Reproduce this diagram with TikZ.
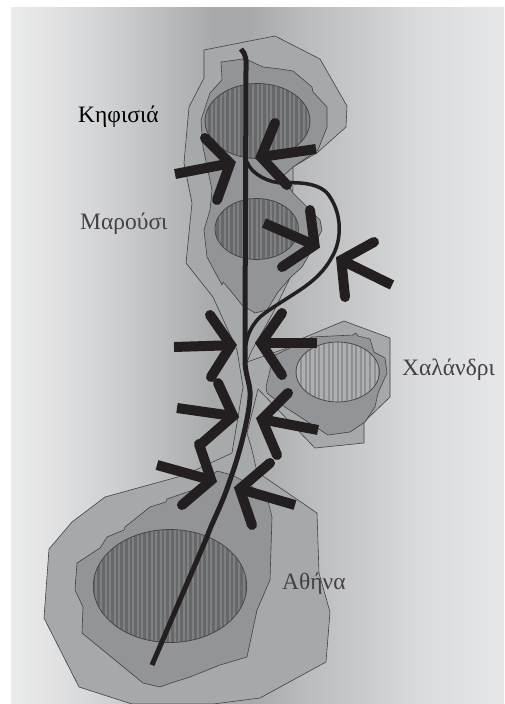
\documentclass[tikz,border=0pt]{standalone}
\usepackage{fontspec}
\setmainfont{Liberation Serif}
\usetikzlibrary{calc}
\definecolor{zoneouter}{HTML}{A6A9AB}
\definecolor{zoneinner}{HTML}{939497}
\definecolor{ink}{HTML}{231F20}
\definecolor{coredark}{HTML}{676869}
\definecolor{corestripe}{HTML}{7F8082}
\definecolor{corelight}{HTML}{AEAFB1}
\definecolor{lightstripe}{HTML}{8E8F91}
\pgfdeclarehorizontalshading{bgshade}{100bp}{rgb(0bp)=(.922,.925,.925); rgb(25bp)=(.922,.925,.925); rgb(30bp)=(.875,.878,.882); rgb(35bp)=(.816,.82,.824); rgb(41bp)=(.722,.729,.733); rgb(45.5bp)=(.655,.663,.671); rgb(49.25bp)=(.655,.663,.671); rgb(54.3bp)=(.722,.729,.737); rgb(59.4bp)=(.776,.78,.788); rgb(66.5bp)=(.855,.859,.863); rgb(75bp)=(.902,.906,.91); rgb(100bp)=(.902,.906,.91)}
\tikzset{
  zone/.style={draw=ink!85,line width=0.6pt,line join=round},
  road/.style={draw=ink,line cap=butt,line join=round},
  shaft/.style={draw=ink,line width=10pt,line cap=butt},
  barbs/.style={draw=ink,line width=10pt,line cap=round,line join=miter,miter limit=10},
  place/.style={font=\fontsize{23.5}{25}\selectfont,anchor=base west,inner sep=0pt,text=ink!85}
}
\newcommand{\hatched}[6]{% cx cy rx ry base stripe
  \fill[#5] (#1,#2) ellipse [x radius=#3,y radius=#4];
  \begin{scope}
    \clip (#1,#2) ellipse [x radius=#3,y radius=#4];
    \foreach \k in {-18,...,18}{\draw[#6,line width=2pt] ({#1+\k*4.6},{#2-#4}) -- ({#1+\k*4.6},{#2+#4});}
  \end{scope}
  \draw[ink!85,line width=0.7pt] (#1,#2) ellipse [x radius=#3,y radius=#4];
}
\newcommand{\bigarrow}[4]{% tip shaftend barb barb
  \coordinate (tipin) at ($#1!7pt!#2$);
  \draw[shaft] #2 -- (tipin);
  \draw[barbs] #3 -- (tipin) -- #4;
}
\begin{document}
\begin{tikzpicture}[x=1pt,y=-1pt]
\useasboundingbox (0,0) rectangle (504,704);
\clip (0,0) rectangle (504,704);
\shade[shading=bgshade] (11,7) rectangle (504,704);
% outer zone
\path[zone,fill=zoneouter] (204,50)--(275,36)--(320,59)--(347,106)--(346,127)--(318,152)--(293,167)--(293,182)--(290,278)--(273,313)--(252,350)--(247,362)--(287,348)--(303,338)--(344,321)--(390,338)--(390,397)--(364,422)--(364,443)--(315,448)--(258,389)--(247,433)--(252,450)--(257,472)--(317,513)--(319,573)--(330,612)--(326,662)--(260,698)--(213,704)--(132,704)--(79,687)--(44,618)--(49,549)--(72,522)--(105,497)--(185,475)--(232,453)--(243,387)--(237,350)--(213,297)--(186,263)--(192,203)--(184,163)--(189,107)--(204,78)--cycle;
% inner zones
\path[zone,fill=zoneinner] (221,62)--(243,59)--(248,60)--(263,67)--(280,69)--(293,71)--(312,87)--(313,92)--(327,107)--(327,127)--(318,150)--(293,167)--(282,177)--(293,193)--(307,207)--(320,220)--(322,230)--(313,248)--(302,267)--(290,278)--(278,292)--(267,310)--(255,313)--(242,305)--(230,290)--(223,282)--(222,285)--(207,257)--(204,230)--(210,210)--(212,190)--(203,147)--(201,120)--(210,93)--(222,80)--cycle;
\path[zone,fill=zoneinner] (312,337)--(353,335)--(356,333)--(358,336)--(370,339)--(374,352)--(385,358)--(387,373)--(378,393)--(375,407)--(365,422)--(350,432)--(328,435)--(308,422)--(285,407)--(267,393)--(266,387)--(270,370)--(275,355)--(290,348)--cycle;
\path[zone,fill=zoneinner] (232,475)--(217,471)--(193,490)--(167,499)--(166,502)--(150,507)--(125,527)--(124,530)--(107,537)--(100,548)--(77,563)--(75,590)--(83,607)--(82,633)--(143,683)--(160,687)--(171,683)--(190,677)--(220,665)--(247,657)--(257,610)--(270,580)--(272,517)--(267,497)--(247,483)--cycle;
% hatched cores
\hatched{257.5}{121}{52.5}{37.5}{coredark}{corestripe}
\hatched{256.7}{229}{41.7}{30.5}{coredark}{corestripe}
\hatched{337.7}{372}{41.7}{30}{corelight}{lightstripe}
\hatched{170}{586}{76.7}{56.5}{coredark}{corestripe}
% roads
\draw[road,line width=5pt] (241,49) .. controls (246,54) and (246.5,60) .. (246,70) -- (245,330) -- (245,363) .. controls (246,378) and (251,385) .. (250,397) .. controls (249,415) and (241,450) .. (230,480) .. controls (222,505) and (212,522) .. (207,537) -- (152,665);
\draw[road,line width=3.5pt] (247,162) .. controls (252,175) and (270,183) .. (283,183) .. controls (300,182) and (322,183) .. (330,197) .. controls (342,215) and (342,240) .. (332,257) .. controls (325,270) and (315,280) .. (300,290) .. controls (285,300) and (268,310) .. (260,317) .. controls (252,325) and (247,335) .. (246,345);
% arrows
\bigarrow{(237,162)}{(175,174)}{(205,138)}{(217,200)}
\bigarrow{(254,158)}{(316,149)}{(275,123)}{(287,185)}
\bigarrow{(321,248)}{(264,223)}{(310,210)}{(282,267)}
\bigarrow{(335,257)}{(392,285)}{(374,242)}{(345,297)}
\bigarrow{(238,345)}{(174,347)}{(210,315)}{(211,377)}
\bigarrow{(254,343)}{(317,343)}{(282,313)}{(282,375)}
\bigarrow{(240,417)}{(177,408)}{(218,383)}{(200,445)}
\bigarrow{(255,418)}{(318,430)}{(288,393)}{(277,455)}
\bigarrow{(218,482)}{(157,465)}{(199,444)}{(182,505)}
\bigarrow{(233,487)}{(295,505)}{(270,463)}{(252,525)}
% labels
\node[place,text=black] (kifisia) at (78,122) {Κηφισιά};
\node[place] (marousi) at (80,229) {Μαρούσι};
\node[place] (chalandri) at (402,375) {Χαλάνδρι};
\node[place] (athina) at (282,589) {Αθήνα};
\end{tikzpicture}
\end{document}
